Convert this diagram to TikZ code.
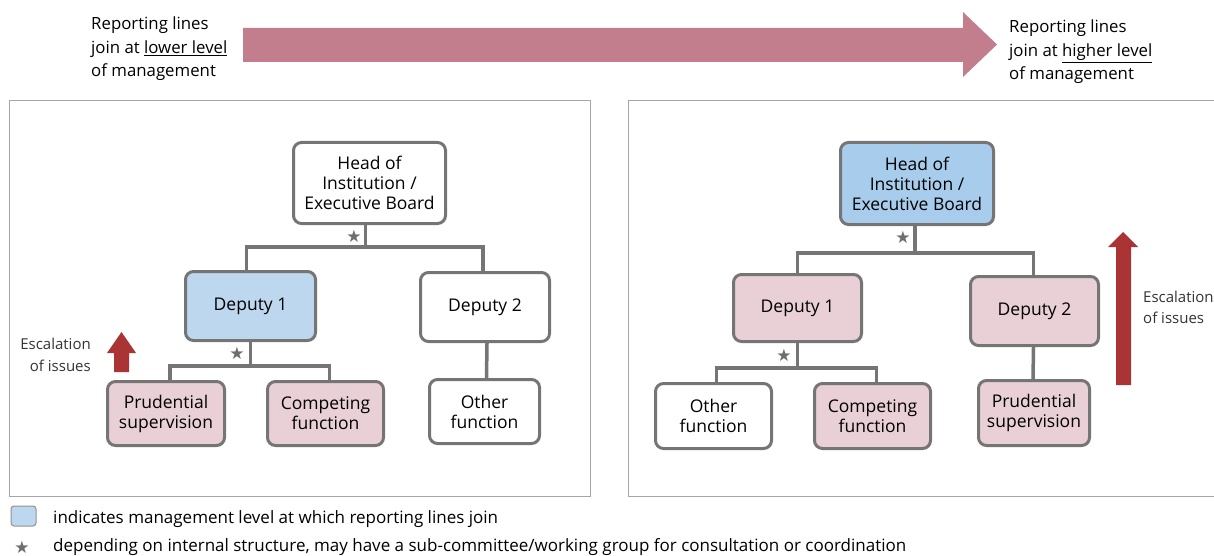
\documentclass[tikz,border=0pt]{standalone}
\usepackage{fontspec}
\setmainfont{Open Sans}
\newfontfamily\symfont{DejaVu Sans}
\definecolor{boxgray}{HTML}{757575}
\definecolor{panelgray}{HTML}{A6A6A6}
\definecolor{pinkfill}{HTML}{E8D0D6}
\definecolor{bluefill}{HTML}{BDD7EE}
\definecolor{bluestrong}{HTML}{A8CDEC}
\definecolor{arrowpink}{HTML}{C27E8D}
\definecolor{escred}{HTML}{AA3333}
\definecolor{startgray}{HTML}{6E6E6E}
\tikzset{
  orgbox/.style={draw=boxgray, line width=3pt, rounded corners=8pt, align=center,
    inner sep=0pt, font=\fontsize{17.5}{20}\selectfont, text=black},
  conn/.style={draw=boxgray, line width=3.5pt},
  panel/.style={draw=panelgray, line width=1pt},
  startxt/.style={font=\symfont\fontsize{17}{17}\selectfont, text=startgray, inner sep=0pt},
  toptxt/.style={align=left, inner sep=0pt, font=\fontsize{16.8}{23.5}\selectfont},
  esctxt/.style={inner sep=0pt, font=\fontsize{15}{21.5}\selectfont, text=black!80},
  legtxt/.style={inner sep=0pt, anchor=west, font=\fontsize{17}{18}\selectfont}
}
\begin{document}
\begin{tikzpicture}[x=1pt,y=-1pt]
\useasboundingbox (0,0) rectangle (1214,556);
% top arrow
\fill[arrowpink] (243,28) -- (963,28) -- (963,12) -- (997,44.5) -- (963,77) -- (963,62) -- (243,62) -- cycle;
\node[toptxt, anchor=north west] (tl) at (91,17) {Reporting lines\\join at \underline{lower level}\\of management};
\node[toptxt, anchor=north west] (tr) at (1009,20) {Reporting lines\\join at \underline{higher level}\\of management};
% panels
\draw[panel] (9,101) rectangle (590,496);
\draw[panel] (628,101) rectangle (1230,496);
% ---------- left tree ----------
\node[orgbox, fill=white, minimum width=152pt, minimum height=81pt] (h1) at (369.5,183) {Head of\\Institution /\\Executive Board};
\node[orgbox, fill=bluefill, minimum width=130pt, minimum height=69pt] (d1) at (250.5,306) {Deputy 1};
\node[orgbox, fill=white, minimum width=129pt, minimum height=69pt] (d2) at (485,307) {Deputy 2};
\node[orgbox, fill=pinkfill, minimum width=117pt, minimum height=64pt] (p1) at (166,413.5) {Prudential\\supervision};
\node[orgbox, fill=pinkfill, minimum width=116pt, minimum height=64pt] (c1) at (325.5,413.5) {Competing\\function};
\node[orgbox, fill=white, minimum width=110pt, minimum height=64pt] (o1) at (484.5,411.5) {Other\\function};
\coordinate (j1) at (0,247);
\coordinate (k1) at (0,366);
\draw[conn] ([xshift=-4pt]h1.south) -- ([xshift=-4pt]h1.south |- j1);
\draw[conn] ([xshift=-4pt]d1.north) |- ([xshift=-4pt]h1.south |- j1) -| ([xshift=-2pt]d2.north);
\draw[conn] (d1.south) -- (d1.south |- k1);
\draw[conn] ([xshift=4pt]p1.north) |- (d1.south |- k1) -| ([xshift=4pt]c1.north);
\draw[conn] ([xshift=2pt]d2.south) -- ([xshift=2pt]o1.north);
\node[startxt] (s1) at (354,236) {★};
\node[startxt] (s2) at (237,353) {★};
\fill[escred] (114,372) -- (114,353) -- (107,353) -- (121.5,332) -- (136,353) -- (129,353) -- (129,372) -- cycle;
\node[esctxt, anchor=east, align=right] (e1) at (91,355) {Escalation\\of issues};
% ---------- right tree ----------
\node[orgbox, fill=bluestrong, minimum width=153pt, minimum height=82pt] (h2) at (917,183.5) {Head of\\Institution /\\Executive Board};
\node[orgbox, fill=pinkfill, minimum width=128pt, minimum height=67pt] (d3) at (797.5,308) {Deputy 1};
\node[orgbox, fill=pinkfill, minimum width=128pt, minimum height=69pt] (d4) at (1034.5,311) {Deputy 2};
\node[orgbox, fill=white, minimum width=116pt, minimum height=65pt] (o2) at (713.5,416) {Other\\function};
\node[orgbox, fill=pinkfill, minimum width=116pt, minimum height=65pt] (c2) at (872.5,416) {Competing\\function};
\node[orgbox, fill=pinkfill, minimum width=111pt, minimum height=65pt] (p2) at (1034,413) {Prudential\\supervision};
\coordinate (j2) at (0,253);
\coordinate (k2) at (0,368);
\draw[conn] ([xshift=-2pt]h2.south) -- ([xshift=-2pt]h2.south |- j2);
\draw[conn] (d3.north) |- ([xshift=-2pt]h2.south |- j2) -| ([xshift=-1pt]d4.north);
\draw[conn] (d3.south) -- (d3.south |- k2);
\draw[conn] ([xshift=3pt]o2.north) |- (d3.south |- k2) -| ([xshift=4pt]c2.north);
\draw[conn] ([xshift=-1pt]d4.south) -- ([xshift=-1pt]p2.north);
\node[startxt] (s3) at (903,237) {★};
\node[startxt] (s4) at (784,355) {★};
\fill[escred] (1116,385) -- (1116,247) -- (1108,247) -- (1123,232) -- (1138,247) -- (1131,247) -- (1131,385) -- cycle;
\node[esctxt, anchor=west, align=left] (e2) at (1143,307.5) {Escalation\\of issues};
% ---------- legend ----------
\draw[fill=bluefill, draw=boxgray!80, line width=1pt, rounded corners=3pt] (11,506) rectangle (36,526);
\node[legtxt] (l1) at (53,519) {indicates management level at which reporting lines join};
\node[startxt] (s5) at (22,547) {★};
\node[legtxt] (l2) at (53,547) {depending on internal structure, may have a sub-committee/working group for consultation or coordination};
\end{tikzpicture}
\end{document}
